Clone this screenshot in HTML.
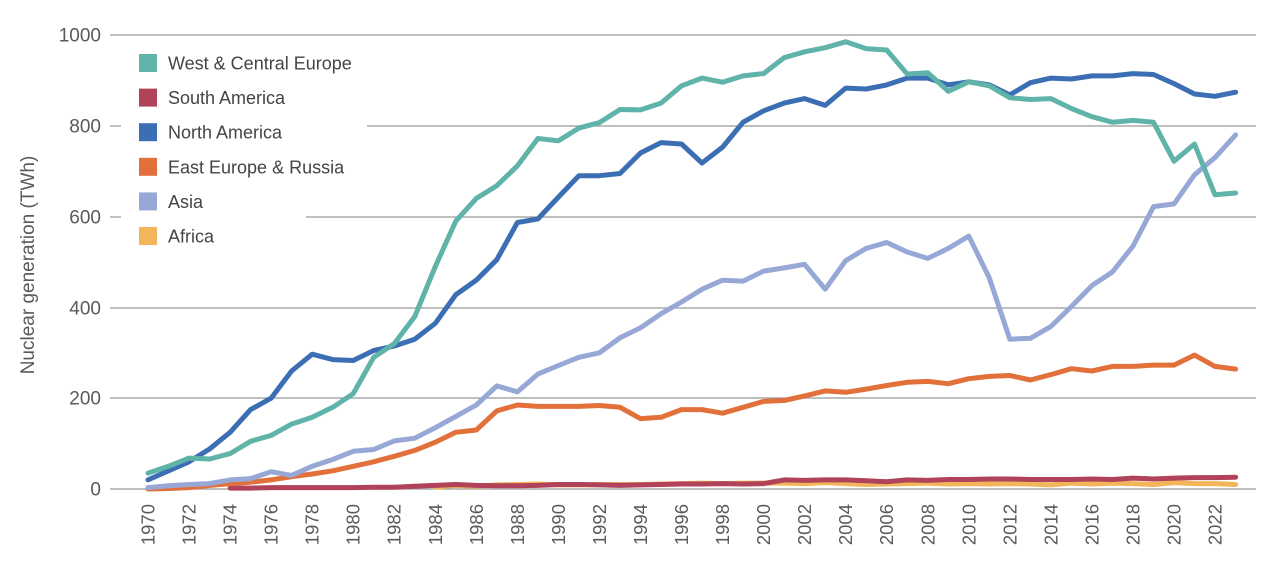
<!DOCTYPE html>
<html><head><meta charset="utf-8"><style>
html,body{margin:0;padding:0;background:#fff;width:1280px;height:562px;overflow:hidden}
svg{display:block;font-family:"Liberation Sans",sans-serif}
</style></head><body>
<svg id="c" width="1280" height="562" xmlns="http://www.w3.org/2000/svg"></svg>
<script>
const s=document.getElementById('c');
const X=y=>148+20.52*(y-1970), Y=v=>489-0.454*v;
let h='';
h+=`<line x1="110" y1="35" x2="1256" y2="35" stroke="#999" stroke-width="1.2"/>`;
h+=`<line x1="110" y1="126" x2="121" y2="126" stroke="#999" stroke-width="1.2"/><line x1="367" y1="126" x2="1256" y2="126" stroke="#999" stroke-width="1.2"/>`;
h+=`<line x1="110" y1="217" x2="121" y2="217" stroke="#999" stroke-width="1.2"/><line x1="306" y1="217" x2="1256" y2="217" stroke="#999" stroke-width="1.2"/>`;
[308,398,489].forEach(y=>h+=`<line x1="110" y1="${y}" x2="1256" y2="${y}" stroke="#999" stroke-width="1.2"/>`);
[[1000,35],[800,126],[600,217],[400,308],[200,398],[0,489]].forEach(([v,y])=>h+=`<text x="101" y="${y+6.5}" text-anchor="end" font-size="19" fill="#5a5a5a">${v}</text>`);
h+=`<text transform="translate(34,265) rotate(-90)" text-anchor="middle" font-size="19" fill="#5a5a5a">Nuclear generation (TWh)</text>`;
for(let y=1970;y<=2022;y+=2)h+=`<text transform="translate(${X(y)+6.5},504) rotate(-90)" text-anchor="end" font-size="18.5" fill="#5a5a5a">${y}</text>`;
const D={
we:["#5fb3a8",1970,[35,50,68,66,78,105,118,143,158,180,210,290,320,380,490,590,640,668,712,772,767,795,807,836,835,850,888,905,896,910,915,950,963,972,985,970,967,914,917,876,897,888,862,858,860,838,820,808,812,808,722,760,648,652]],
as:["#97a8d6",1970,[3,7,10,12,20,23,38,30,50,65,83,87,106,112,135,160,185,227,214,253,272,290,300,333,355,386,412,440,460,458,480,487,495,440,503,530,543,522,508,530,557,465,330,332,358,402,448,478,535,622,628,692,730,780]],
na:["#3c6eb4",1970,[20,40,60,88,125,175,200,260,297,285,283,305,315,330,365,428,460,505,587,595,643,690,690,695,740,763,760,718,753,808,833,850,860,845,883,881,890,905,905,890,897,890,868,895,905,903,910,910,915,913,893,870,865,874]],
ee:["#e2703a",1970,[0,1,3,8,12,15,20,27,33,40,50,60,72,85,103,125,130,172,185,182,182,182,184,180,155,158,175,175,167,180,193,195,205,216,213,220,228,235,237,232,243,248,250,240,252,265,260,270,270,273,273,295,270,264]],
af:["#f2b55a",1984,[4,8,6,9,10,11,9,9,10,10,10,11,12,13,12,13,13,13,12,14,12,10,11,12,13,11,12,11,12,11,9,13,11,13,12,10,14,12,12,10]],
sa:["#b0425a",1974,[2,2,3,3,3,3,3,4,4,6,8,10,8,7,7,8,10,10,9,8,9,10,11,11,12,11,12,20,19,20,20,18,16,20,19,21,21,22,22,21,21,21,22,21,24,22,24,25,25,26]]
};
['af','sa','ee','as','na','we'].forEach(k=>{const[c,st,a]=D[k];h+=`<polyline fill="none" stroke="${c}" stroke-width="5" stroke-linejoin="round" stroke-linecap="round" points="${a.map((v,i)=>X(st+i).toFixed(1)+','+Y(v).toFixed(1)).join(' ')}"/>`;});
[["#5fb3a8","West & Central Europe"],["#b0425a","South America"],["#3c6eb4","North America"],["#e2703a","East Europe & Russia"],["#97a8d6","Asia"],["#f2b55a","Africa"]].forEach(([c,t],i)=>{const y=63+i*34.6;h+=`<rect x="139" y="${y-9}" width="18" height="18" fill="${c}"/><text x="168" y="${y+6.5}" font-size="18" fill="#444">${t.replace('&','&amp;')}</text>`;});
s.innerHTML=h;
</script>
</body></html>
